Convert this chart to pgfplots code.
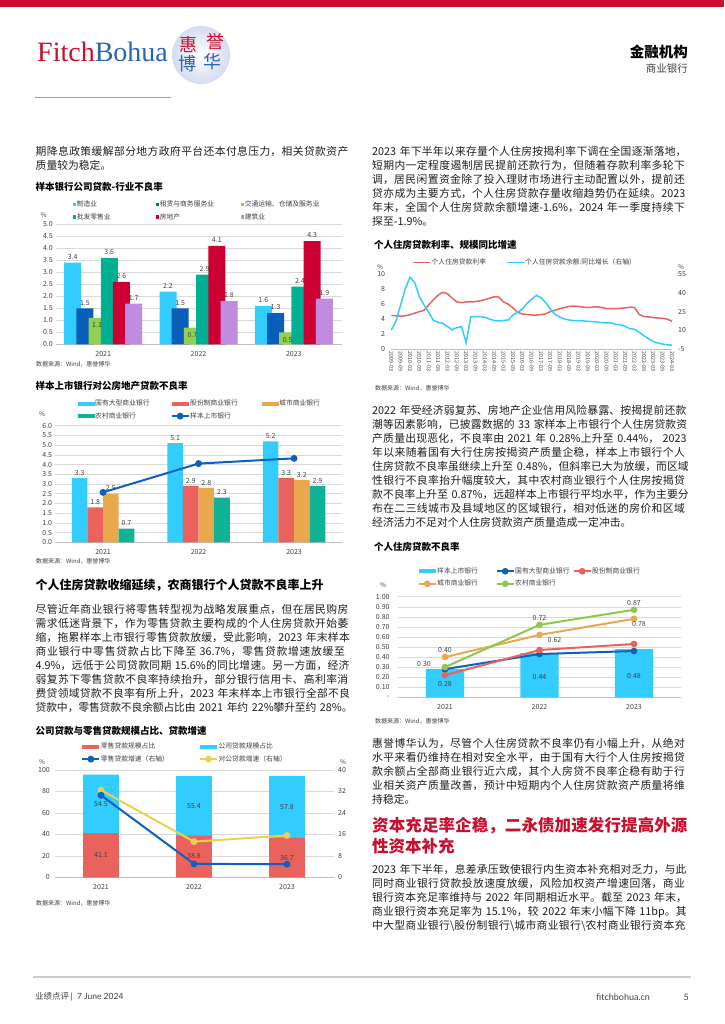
\documentclass[border=0pt]{standalone}
\usepackage{fontspec}
\setmainfont{Noto Sans CJK SC}
\newfontfamily\logofont{Liberation Serif}
\newfontfamily\footfont{Lato}
\usepackage{pgfplots}
\usepackage{pgfplotstable}
\pgfplotsset{compat=1.18}
\XeTeXlinebreaklocale "zh"
\XeTeXlinebreakskip=0pt plus 2pt minus 0.3pt

\definecolor{brand}{RGB}{200,16,46}
\definecolor{logoblue}{RGB}{40,100,180}
\definecolor{seal}{RGB}{212,220,240}
\definecolor{lblue}{RGB}{51,204,255}
\definecolor{dblue}{RGB}{8,94,184}
\definecolor{lgreen}{RGB}{146,208,80}
\definecolor{teal1}{RGB}{0,176,146}
\definecolor{crim}{RGB}{204,0,51}
\definecolor{lav}{RGB}{192,140,224}
\definecolor{salmon}{RGB}{234,98,92}
\definecolor{orng}{RGB}{234,168,78}
\definecolor{teal2}{RGB}{16,178,150}
\definecolor{lineblue}{RGB}{14,96,190}
\definecolor{yel}{RGB}{234,208,84}
\definecolor{grn}{RGB}{140,200,76}
\definecolor{gridgray}{RGB}{217,217,217}
\definecolor{axisgray}{RGB}{190,190,190}
\definecolor{tick}{RGB}{64,64,64}
\definecolor{bodytext}{RGB}{30,30,30}
\definecolor{footgray}{RGB}{200,205,210}

\newcommand\jline[1]{{\parfillskip=0pt\relax#1\par}}
\newcommand\bodyfont{\fontsize{10.8}{14}\selectfont\color{bodytext}\parindent=0pt\tolerance=10000\hbadness=10000}

\tikzset{lbl/.style={font=\fontsize{7}{8}\selectfont, text=tick, inner sep=1.5pt}}

\pgfplotsset{
  base/.style={scale only axis, anchor=south west, clip=false,
    /pgf/number format/assume math mode=true,
    tick label style={font=\fontsize{7}{8}\selectfont, text=tick, inner sep=0pt},
    axis x line*=bottom, axis y line*=left,
    x axis line style={draw=axisgray, line width=0.6pt},
    y axis line style={draw=none},
    major tick length=0pt, tick style={draw=none},
    legend cell align=left,
    legend style={draw=none, fill=none, inner sep=0pt, anchor=north west,
      font=\fontsize{6.8}{7}\selectfont, row sep=4.3pt, nodes={inner sep=0.5pt, text=tick}},
  },
  yrgrid/.style={ymajorgrids, major grid style={draw=gridgray, line width=0.5pt}},
  cat/.style={xmin=0.5, xmax=3.5, xtick={1,2,3}, xticklabels={2021,2022,2023},
    xticklabel style={yshift=-6.5pt}},
  sqleg/.style={legend image code/.code={\fill[##1] (0pt,-1.8pt) rectangle (3.6pt,1.8pt);}},
  barleg/.style={legend image code/.code={\fill[##1] (0pt,-2pt) rectangle (17pt,2pt);}},
  lineleg/.style={legend image code/.code={\draw[##1, mark repeat=2, mark phase=2] plot coordinates {(0pt,0pt) (8.5pt,0pt) (17pt,0pt)};}},
  plainleg/.style={legend image code/.code={\draw[##1] (0pt,0pt) -- (17pt,0pt);}},
}

% quarterly series, 2009-03 .. 2024-03
\pgfplotstableread{
q rate yoy
0 4.50 10.3
1 4.45 17.5
2 4.40 30.4
3 4.45 43.7
4 4.60 52.6
5 4.80 48.3
6 5.00 37.0
7 5.20 30.4
8 5.90 24.5
9 6.60 18.0
10 7.20 16.4
11 7.60 15.6
12 7.40 13.0
13 6.80 10.5
14 6.30 12.1
15 6.20 13.0
16 6.30 0.0
17 6.30 21.0
18 6.35 21.0
19 6.45 21.0
20 6.60 20.5
21 6.80 19.1
22 7.00 17.8
23 6.95 17.5
24 6.30 18.0
25 6.00 18.3
26 5.50 22.3
27 4.90 24.5
28 4.70 27.1
29 4.60 31.7
30 4.55 34.9
31 4.55 38.1
32 4.60 36.2
33 4.70 32.2
34 5.00 27.1
35 5.20 22.8
36 5.40 20.7
37 5.55 19.1
38 5.70 18.3
39 5.75 17.8
40 5.70 17.8
41 5.60 17.5
42 5.55 17.2
43 5.60 17.0
44 5.65 16.7
45 5.55 16.2
46 5.40 15.9
47 5.40 15.9
48 5.40 14.8
49 5.45 14.5
50 5.50 13.2
51 5.60 11.3
52 5.55 10.8
53 4.60 8.4
54 4.35 5.7
55 4.30 3.3
56 4.20 0.9
57 4.15 -0.2
58 4.10 -1.0
59 4.00 -1.6
60 3.70 -1.9
}\hltable

\begin{document}
\begin{tikzpicture}
\path[use as bounding box, fill=white] (0,0) rectangle (724pt,-1024pt);
\fill[brand] (0,0) rectangle (724pt,-6.8pt);

\begin{scope}[x=1pt,y=-1pt]
% header
\node[anchor=base west, inner sep=0pt, font=\logofont\fontsize{28}{28}\selectfont] at (37,61.5)
  {\textcolor{brand}{Fitch}\textcolor{logoblue}{Bohua}};
\shade[inner color=white, outer color=seal] (201,55) circle[radius=29pt];
\node[font=\fontsize{18}{18}\selectfont, text=brand] at (188,45) {惠};
\node[font=\fontsize{18}{18}\selectfont, text=brand] at (215,42) {誉};
\node[font=\fontsize{18}{18}\selectfont, text=logoblue] at (187,64) {博};
\node[font=\fontsize{18}{18}\selectfont, text=logoblue] at (212,62) {华};
\node[anchor=east, inner sep=0pt, font=\bfseries\fontsize{14.5}{15}\selectfont] at (688,52) {金融机构};
\node[anchor=east, inner sep=0pt, font=\fontsize{10.5}{11}\selectfont, text=tick] at (688,68.5) {商业银行};
\draw[gray!75, line width=0.8pt] (35,97) -- (171,97);

% left column text
\node[anchor=north west, inner sep=0pt, text width=317pt, font=\bodyfont] at (35.5,145.9) {%
\jline{期降息政策缓解部分地方政府平台还本付息压力，相关贷款资产}
质量较为稳定。\par};

\node[anchor=west, inner sep=0pt, font=\bfseries\fontsize{12}{13}\selectfont] at (35.5,585) {个人住房贷款收缩延续，农商银行个人贷款不良率上升};

\node[anchor=north west, inner sep=0pt, text width=317pt, font=\bodyfont] at (35.5,603.9) {%
\jline{尽管近年商业银行将零售转型视为战略发展重点，但在居民购房}
\jline{需求低迷背景下，作为零售贷款主要构成的个人住房贷款开始萎}
\jline{缩，拖累样本上市银行零售贷款放缓，受此影响，2023 年末样本}
\jline{商业银行中零售贷款占比下降至 36.7\%，零售贷款增速放缓至}
\jline{4.9\%，远低于公司贷款同期 15.6\%的同比增速。另一方面，经济}
\jline{弱复苏下零售贷款不良率持续抬升，部分银行信用卡、高利率消}
\jline{费贷领域贷款不良率有所上升，2023 年末样本上市银行全部不良}
\jline{贷款中，零售贷款不良余额占比由 2021 年约 22\%攀升至约 28\%。}};

% right column text
\node[anchor=north west, inner sep=0pt, text width=317pt, font=\bodyfont] at (372,145.9) {%
\jline{2023 年下半年以来存量个人住房按揭利率下调在全国逐渐落地，}
\jline{短期内一定程度遏制居民提前还款行为，但随着存款利率多轮下}
\jline{调，居民闲置资金除了投入理财市场进行主动配置以外，提前还}
\jline{贷亦成为主要方式，个人住房贷款存量收缩趋势仍在延续。2023}
\jline{年末，全国个人住房贷款余额增速-1.6\%，2024 年一季度持续下}
探至-1.9\%。\par};

\node[anchor=north west, inner sep=0pt, text width=317pt, font=\bodyfont] at (372,404.9) {%
\jline{2022 年受经济弱复苏、房地产企业信用风险暴露、按揭提前还款}
\jline{潮等因素影响，已披露数据的 33 家样本上市银行个人住房贷款资}
\jline{产质量出现恶化，不良率由 2021 年 0.28\%上升至 0.44\%， 2023}
\jline{年以来随着国有大行住房按揭资产质量企稳，样本上市银行个人}
\jline{住房贷款不良率虽继续上升至 0.48\%，但斜率已大为放缓，而区域}
\jline{性银行不良率抬升幅度较大，其中农村商业银行个人住房按揭贷}
\jline{款不良率上升至 0.87\%，远超样本上市银行平均水平，作为主要分}
\jline{布在二三线城市及县域地区的区域银行，相对低迷的房价和区域}
经济活力不足对个人住房贷款资产质量造成一定冲击。\par};

\node[anchor=north west, inner sep=0pt, text width=317pt, font=\bodyfont] at (372,737.9) {%
\jline{惠誉博华认为，尽管个人住房贷款不良率仍有小幅上升，从绝对}
\jline{水平来看仍维持在相对安全水平，由于国有大行个人住房按揭贷}
\jline{款余额占全部商业银行近六成，其个人房贷不良率企稳有助于行}
\jline{业相关资产质量改善，预计中短期内个人住房贷款资产质量将维}
持稳定。\par};

\node[anchor=north west, inner sep=0pt, text width=317pt,
  font={\bfseries\fontsize{16.5}{21}\selectfont\color{brand}\parindent=0pt\tolerance=10000}] at (372,817.2) {%
\jline{资本充足率企稳，二永债加速发行提高外源}
性资本补充\par};

\node[anchor=north west, inner sep=0pt, text width=317pt, font=\bodyfont] at (372,863.9) {%
\jline{2023 年下半年，息差承压致使银行内生资本补充相对乏力，与此}
\jline{同时商业银行贷款投放速度放缓，风险加权资产增速回落，商业}
\jline{银行资本充足率维持与 2022 年同期相近水平。截至 2023 年末，}
\jline{商业银行资本充足率为 15.1\%，较 2022 年末小幅下降 11bp。其}
\jline{中大型商业银行\textbackslash 股份制银行\textbackslash 城市商业银行\textbackslash 农村商业银行资本充}};

% chart titles, units and sources
\node[anchor=west, inner sep=0pt, font=\bfseries\fontsize{9.5}{10}\selectfont] at (35.5,187.3) {样本银行公司贷款-行业不良率};
\node[anchor=west, inner sep=0pt, font=\bfseries\fontsize{9.5}{10}\selectfont] at (35.5,386.3) {样本上市银行对公房地产贷款不良率};
\node[anchor=west, inner sep=0pt, font=\bfseries\fontsize{9.5}{10}\selectfont] at (35.5,730.7) {公司贷款与零售贷款规模占比、贷款增速};
\node[anchor=west, inner sep=0pt, font=\bfseries\fontsize{9.5}{10}\selectfont] at (374,245) {个人住房贷款利率、规模同比增速};
\node[anchor=west, inner sep=0pt, font=\bfseries\fontsize{9.5}{10}\selectfont] at (374,547.3) {个人住房贷款不良率};

\begin{scope}[every node/.style={inner sep=0pt, font=\fontsize{6.5}{7}\selectfont, text=tick}]
\node at (43.5,215) {\%};
\node at (42,414) {\%};
\node at (42,762) {\%};
\node at (343,762) {\%};
\node at (380,267) {\%};
\node at (681,267) {\%};
\node at (383,585) {\%};
\end{scope}

\begin{scope}[every node/.style={anchor=west, inner sep=0pt, font=\fontsize{6}{7}\selectfont, text=tick}]
\node at (36,364) {数据来源：Wind，惠誉博华};
\node at (36,561.5) {数据来源：Wind，惠誉博华};
\node at (36,903) {数据来源：Wind，惠誉博华};
\node at (375,388) {数据来源：Wind，惠誉博华};
\node at (375,721.5) {数据来源：Wind，惠誉博华};
\end{scope}

% footer
\draw[footgray, line width=1.2pt] (33,977) -- (691,977);
\node[anchor=west, inner sep=0pt, font=\fontsize{8.5}{9}\selectfont, text=tick] at (35,997)
  {业绩点评\,{\footfont\textbar}\enspace{\footfont 7 June 2024}};
\node[anchor=west, inner sep=0pt, font=\footfont\fontsize{9}{9}\selectfont, text=tick] at (596,997) {fitchbohua.cn};
\node[anchor=east, inner sep=0pt, font=\footfont\fontsize{9}{9}\selectfont, text=tick] at (689,997) {5};
\end{scope}

% ---- chart 1: industry NPL ratios
\begin{axis}[base, yrgrid, cat, at={(55.5pt,-344.3pt)}, width=286pt, height=120pt,
  ymin=0, ymax=5, ytick={0,0.5,...,5},
  yticklabel style={xshift=-2.5pt, /pgf/number format/.cd, fixed, fixed zerofill, precision=1},
  legend columns=3,
  legend style={at={(axis description cs:0.0594,1.2)}},
  nodes near coords style={lbl, yshift=1.5pt},
]
\addplot[ybar, bar width=17pt, bar shift=-30.5pt, fill=lblue, draw=none, sqleg, nodes near coords,
  nodes near coords style={xshift=-30.5pt}]
  coordinates {(1,3.4) (2,2.2) (3,1.6)};
\addplot[ybar, bar width=17pt, bar shift=-18.3pt, fill=dblue, draw=none, sqleg, nodes near coords,
  nodes near coords style={xshift=-18.3pt}]
  coordinates {(1,1.5) (2,1.5) (3,1.3)};
\addplot[ybar, bar width=17pt, bar shift=-6.1pt, fill=lgreen, draw=none, sqleg, nodes near coords,
  nodes near coords style={anchor=north, yshift=-4.5pt, xshift=-6.1pt}]
  coordinates {(1,1.1) (2,0.7) (3,0.5)};
\addplot[ybar, bar width=17pt, bar shift=6.1pt, fill=teal1, draw=none, sqleg, nodes near coords,
  nodes near coords style={xshift=6.1pt}]
  coordinates {(1,3.6) (2,2.9) (3,2.4)};
\addplot[ybar, bar width=17pt, bar shift=18.3pt, fill=crim, draw=none, sqleg, nodes near coords,
  nodes near coords style={xshift=18.3pt}]
  coordinates {(1,2.6) (2,4.1) (3,4.3)};
\addplot[ybar, bar width=17pt, bar shift=30.5pt, fill=lav, draw=none, sqleg, nodes near coords,
  nodes near coords style={xshift=30.5pt}]
  coordinates {(1,1.7) (2,1.8) (3,1.9)};
\legend{\makebox[78.4pt][l]{制造业}, \makebox[80.4pt][l]{租赁与商务服务业}, 交通运输、仓储及服务业,
  批发零售业, 房地产, 建筑业}
\end{axis}

% ---- chart 2: corporate real-estate NPL ratios
\begin{axis}[base, yrgrid, cat, at={(55.3pt,-542.3pt)}, width=286.5pt, height=116.6pt,
  ymin=0, ymax=6, ytick={0,0.5,...,6},
  yticklabel style={xshift=-3pt, /pgf/number format/.cd, fixed, fixed zerofill, precision=1},
  legend columns=3,
  legend style={at={(axis description cs:0.0775,1.227)}},
  nodes near coords style={lbl, yshift=1pt},
]
\addplot[ybar, bar width=15.6pt, bar shift=-23.4pt, fill=lblue, draw=none, barleg, nodes near coords,
  nodes near coords style={xshift=-23.4pt}]
  coordinates {(1,3.3) (2,5.1) (3,5.2)};
\addplot[ybar, bar width=15.6pt, bar shift=-7.8pt, fill=salmon, draw=none, barleg, nodes near coords,
  nodes near coords style={xshift=-7.8pt}]
  coordinates {(1,1.8) (2,2.9) (3,3.3)};
\addplot[ybar, bar width=15.6pt, bar shift=7.8pt, fill=orng, draw=none, barleg, nodes near coords,
  nodes near coords style={xshift=7.8pt}]
  coordinates {(1,2.5) (2,2.8) (3,3.2)};
\addplot[ybar, bar width=15.6pt, bar shift=23.4pt, fill=teal2, draw=none, barleg, nodes near coords,
  nodes near coords style={xshift=23.4pt}]
  coordinates {(1,0.7) (2,2.3) (3,2.9)};
\addplot[lineblue, line width=2pt, mark=*, mark size=2.4pt, mark options={fill=lineblue}, lineleg]
  coordinates {(1,2.57) (2,4.05) (3,4.32)};
\legend{\makebox[75pt][l]{国有大型商业银行}, \makebox[71pt][l]{股份制商业银行}, 城市商业银行,
  农村商业银行, 样本上市银行}
\end{axis}

% ---- chart 3: loan mix (left) and growth (right)
\begin{axis}[base, yrgrid, cat, at={(54.5pt,-877.3pt)}, width=279pt, height=107.3pt,
  ymin=0, ymax=100, ytick={0,20,...,100}, yticklabel style={xshift=-4.5pt}]
\addplot[ybar, bar width=35.7pt, bar shift=0pt, fill=lblue, draw=none]
  coordinates {(1,95.6) (2,94.2) (3,94.5)};
\addplot[ybar, bar width=35.7pt, bar shift=0pt, fill=salmon, draw=none]
  coordinates {(1,41.1) (2,38.8) (3,36.7)};
\addplot[draw=none, nodes near coords, point meta=explicit symbolic,
  nodes near coords style={lbl, anchor=center}]
  coordinates {(1,20.55) [41.1] (2,19.4) [38.8] (3,18.35) [36.7]
               (1,68.35) [54.5] (2,66.5) [55.4] (3,65.6) [57.8]};
\end{axis}
\begin{axis}[base, cat, hide x axis, axis y line*=right, at={(54.5pt,-877.3pt)}, width=279pt, height=107.3pt,
  ymin=0, ymax=40, ytick={0,8,...,40}, yticklabel style={xshift=4.5pt},
  legend columns=2,
  legend style={at={(axis description cs:0.0957,1.2586)}},
]
\addlegendimage{barleg, fill=salmon, draw=none}
\addlegendimage{barleg, fill=lblue, draw=none}
\addplot[yel, line width=2pt, mark=*, mark size=2.4pt, mark options={fill=yel}, lineleg, forget plot]
  coordinates {(1,32.5) (2,13.3) (3,15.6)};
\addplot[lineblue, line width=2pt, mark=*, mark size=2.4pt, mark options={fill=lineblue}, lineleg]
  coordinates {(1,30.6) (2,5.0) (3,4.9)};
\addlegendimage{yel, line width=2pt, mark=*, mark size=2.4pt, mark options={fill=yel}, lineleg}
\legend{\makebox[97.7pt][l]{零售贷款规模占比}, 公司贷款规模占比, 零售贷款增速（右轴）, 对公贷款增速（右轴）}
\end{axis}

% ---- chart 4: mortgage rate and balance growth
\begin{axis}[base, at={(391.3pt,-349pt)}, width=280.7pt, height=74.7pt,
  xmin=0, xmax=60, xtick={0,2,...,60},
  xticklabels={2009-03,2009-09,2010-03,2010-09,2011-03,2011-09,2012-03,2012-09,2013-03,2013-09,
    2014-03,2014-09,2015-03,2015-09,2016-03,2016-09,2017-03,2017-09,2018-03,2018-09,2019-03,
    2019-09,2020-03,2020-09,2021-03,2021-09,2022-03,2022-09,2023-03,2023-09,2024-03},
  xticklabel style={yshift=-2pt, rotate=-90, anchor=west, font=\fontsize{5.4}{6}\selectfont},
  ymin=0, ymax=10, ytick={0,2,...,10}, yticklabel style={xshift=-6pt}]
\addplot[salmon, line width=1.5pt] table[x=q, y=rate] {\hltable};
\end{axis}
\begin{axis}[base, hide x axis, axis y line*=right, at={(391.3pt,-349pt)}, width=280.7pt, height=74.7pt,
  xmin=0, xmax=60, ymin=-5, ymax=55, ytick={-5,10,25,40,55}, yticklabel style={xshift=6pt},
  legend columns=2,
  legend style={at={(axis description cs:0.0755,1.215)}},
]
\addlegendimage{plainleg, salmon, line width=1.5pt}
\addplot[lblue, line width=1.5pt, plainleg] table[x=q, y=yoy] {\hltable};
\legend{\makebox[74pt][l]{个人住房贷款利率}, 个人住房贷款余额:同比增长（右轴）}
\end{axis}

% ---- chart 5: mortgage NPL ratios
\begin{axis}[base, yrgrid, cat, at={(397.75pt,-697.3pt)}, width=283.5pt, height=100.6pt,
  ymin=0, ymax=1, ytick={0,0.1,0.2,0.3,0.4,0.5,0.6,0.7,0.8,0.9,1.0},
  yticklabels={-,0.10,0.20,0.30,0.40,0.50,0.60,0.70,0.80,0.90,1.00},
  yticklabel style={xshift=-8pt},
  legend columns=3,
  legend style={at={(axis description cs:0.0697,1.296)}},
]
\addplot[ybar, bar width=38.3pt, bar shift=0pt, fill=lblue, draw=none, barleg]
  coordinates {(1,0.28) (2,0.44) (3,0.48)};
\addplot[lineblue, line width=2pt, mark=*, mark size=2.3pt, mark options={fill=lineblue}, lineleg]
  coordinates {(1,0.28) (2,0.43) (3,0.46)};
\addplot[salmon, line width=2pt, mark=*, mark size=2.3pt, mark options={fill=salmon}, lineleg]
  coordinates {(1,0.22) (2,0.47) (3,0.53)};
\addplot[orng, line width=2pt, mark=*, mark size=2.3pt, mark options={fill=orng}, lineleg]
  coordinates {(1,0.40) (2,0.62) (3,0.78)};
\addplot[grn, line width=2pt, mark=*, mark size=2.3pt, mark options={fill=grn}, lineleg]
  coordinates {(1,0.30) (2,0.72) (3,0.87)};
\addplot[draw=none, forget plot, nodes near coords, point meta=explicit symbolic,
  nodes near coords style={lbl, anchor=south, yshift=2.5pt}]
  coordinates {(1,0.40) [0.40] (2,0.72) [0.72] (3,0.87) [0.87]};
\addplot[draw=none, forget plot, nodes near coords, point meta=explicit symbolic,
  nodes near coords style={lbl, anchor=north, xshift=15pt, yshift=-0.5pt}]
  coordinates {(2,0.62) [0.62]};
\addplot[draw=none, forget plot, nodes near coords, point meta=explicit symbolic,
  nodes near coords style={lbl, anchor=north, xshift=5pt, yshift=-0.5pt}]
  coordinates {(3,0.78) [0.78]};
\addplot[draw=none, forget plot, nodes near coords, point meta=explicit symbolic,
  nodes near coords style={lbl, anchor=east, xshift=-12.5pt, yshift=3pt}]
  coordinates {(1,0.30) [0.30]};
\addplot[draw=none, forget plot, nodes near coords, point meta=explicit symbolic,
  nodes near coords style={lbl, anchor=center}]
  coordinates {(1,0.135) [0.28] (2,0.20) [0.44] (3,0.21) [0.48]};
\legend{\makebox[58pt][l]{样本上市银行}, \makebox[57pt][l]{国有大型商业银行}, 股份制商业银行,
  城市商业银行, 农村商业银行}
\end{axis}
\end{tikzpicture}
\end{document}
